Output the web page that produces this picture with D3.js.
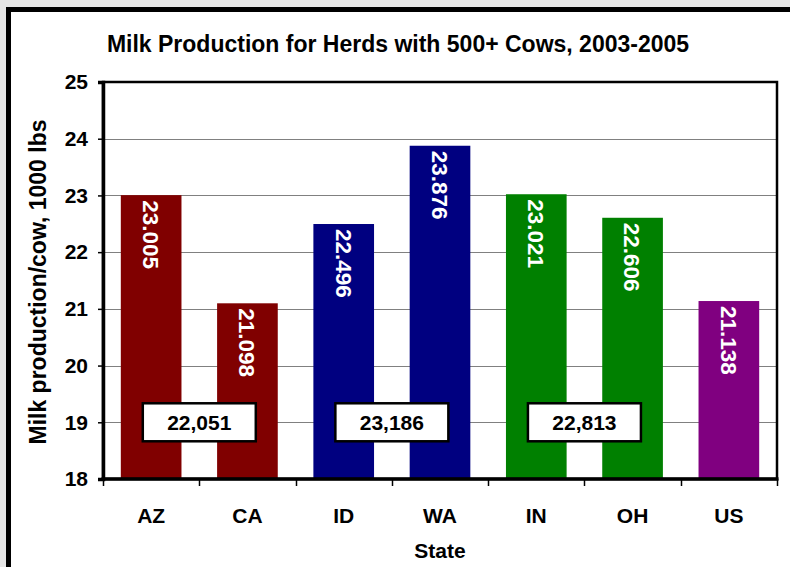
<!DOCTYPE html>
<html>
<head>
<meta charset="utf-8">
<script src="https://cdn.jsdelivr.net/npm/d3@7"></script>
<style>
  html, body { margin: 0; padding: 0; background: #e6e6e6; }
  svg { display: block; font-family: "Liberation Sans", Arial, sans-serif; }
</style>
</head>
<body>
<svg id="chart" width="790" height="567"></svg>
<script>
// Milk production per cow (1000 lbs), herds with 500+ cows, 2003-2005
const states = ["AZ", "CA", "ID", "WA", "IN", "OH", "US"];
const production = [23.005, 21.098, 22.496, 23.876, 23.021, 22.606, 21.138];
const barColors = ["#800000", "#800000", "#000080", "#000080", "#008000", "#008000", "#800080"];

// Paired-state averages shown in boxes between each pair
const pairLabels = ["22,051", "23,186", "22,813"];
const pairStates = [["AZ", "CA"], ["ID", "WA"], ["IN", "OH"]];
const pairLevel = 19;

const yTicks = [18, 19, 20, 21, 22, 23, 24, 25];

const svg = d3.select("#chart");
const W = 790, H = 567;

// Outer white panel with heavy black frame
svg.append("rect")
  .attr("x", 8.5).attr("y", 9.5)
  .attr("width", W + 10).attr("height", H + 10)
  .attr("fill", "#fff").attr("stroke", "#000").attr("stroke-width", 5);

const m = { left: 103, top: 82, right: 777, bottom: 479 };

const x = d3.scaleBand()
  .domain(states)
  .range([m.left, m.right])
  .paddingInner(0.37)
  .paddingOuter(0.185);

const y = d3.scaleLinear().domain([18, 25]).range([m.bottom, m.top]);

// Title
svg.append("text")
  .attr("x", 398).attr("y", 52)
  .attr("text-anchor", "middle")
  .attr("font-size", 23).attr("font-weight", "bold")
  .text("Milk Production for Herds with 500+ Cows, 2003-2005");

// Gridlines
svg.append("g")
  .selectAll("line")
  .data(yTicks.filter(t => t > 18 && t < 25))
  .join("line")
  .attr("x1", m.left).attr("x2", m.right)
  .attr("y1", d => Math.round(y(d)) + 0.5).attr("y2", d => Math.round(y(d)) + 0.5)
  .attr("stroke", "#808080").attr("stroke-width", 1);

// Bars
svg.append("g")
  .selectAll("rect")
  .data(states)
  .join("rect")
  .attr("x", d => x(d))
  .attr("width", x.bandwidth())
  .attr("y", (d, i) => y(production[i]))
  .attr("height", (d, i) => y(18) - y(production[i]))
  .attr("fill", (d, i) => barColors[i]);

// Value labels, rotated, inside the top of each bar
svg.append("g")
  .selectAll("text")
  .data(states)
  .join("text")
  .attr("transform", (d, i) => `translate(${x(d) + x.bandwidth() / 2},${y(production[i]) + 5}) rotate(90)`)
  .attr("dy", "0.36em")
  .attr("fill", "#fff")
  .attr("font-size", 22.5).attr("font-weight", "bold")
  .attr("text-anchor", "start")
  .text((d, i) => production[i].toFixed(3));

// Plot border (top/right)
svg.append("rect")
  .attr("x", m.left).attr("y", m.top)
  .attr("width", m.right - m.left).attr("height", m.bottom - m.top)
  .attr("fill", "none").attr("stroke", "#000").attr("stroke-width", 2.5);

// Y axis
const yAxis = svg.append("g")
  .attr("transform", `translate(${m.left},0)`)
  .call(d3.axisLeft(y).tickValues(yTicks).tickFormat(d3.format("d")).tickSize(5).tickPadding(10));
yAxis.select(".domain").attr("stroke-width", 3.5);
yAxis.selectAll(".tick line").attr("stroke-width", 1.5);
yAxis.selectAll("text")
  .attr("font-size", 21).attr("font-weight", "bold")
  .attr("font-family", "Liberation Sans, Arial, sans-serif")
  .attr("fill", "#000");

// X axis: ticks at band boundaries
const bounds = states.map(s => x(s) - x.step() * x.paddingInner() / 2).concat([m.right]);
bounds[0] = m.left;
const xg = svg.append("g");
xg.append("line")
  .attr("x1", m.left - 1.5).attr("x2", m.right + 1.5)
  .attr("y1", m.bottom).attr("y2", m.bottom)
  .attr("stroke", "#000").attr("stroke-width", 3.5);
xg.selectAll("line.tk")
  .data(bounds)
  .join("line").attr("class", "tk")
  .attr("x1", d => Math.round(d) + 0.5).attr("x2", d => Math.round(d) + 0.5)
  .attr("y1", m.bottom).attr("y2", m.bottom + 7)
  .attr("stroke", "#000").attr("stroke-width", 1.5);
xg.selectAll("text")
  .data(states)
  .join("text")
  .attr("x", d => x(d) + x.bandwidth() / 2)
  .attr("y", 523)
  .attr("text-anchor", "middle")
  .attr("font-size", 21).attr("font-weight", "bold")
  .text(d => d);

// Axis titles
svg.append("text")
  .attr("x", 440).attr("y", 558)
  .attr("text-anchor", "middle")
  .attr("font-size", 21).attr("font-weight", "bold")
  .text("State");

svg.append("text")
  .attr("transform", "translate(46,282) rotate(-90)")
  .attr("text-anchor", "middle")
  .attr("font-size", 23).attr("font-weight", "bold")
  .text("Milk production/cow, 1000 lbs");

// Pair value boxes
const boxW = 113, boxH = 38;
const pairs = svg.append("g")
  .selectAll("g")
  .data(pairLabels)
  .join("g")
  .attr("transform", (d, i) => {
    const [a, b] = pairStates[i];
    const cx = (x(a) + x(b) + x.bandwidth()) / 2;
    return `translate(${cx},${y(pairLevel)})`;
  });
pairs.append("rect")
  .attr("x", -boxW / 2).attr("y", -boxH / 2)
  .attr("width", boxW).attr("height", boxH)
  .attr("fill", "#fff").attr("stroke", "#000").attr("stroke-width", 2.5);
pairs.append("text")
  .attr("text-anchor", "middle").attr("dy", "0.36em")
  .attr("font-size", 21).attr("font-weight", "bold")
  .text(d => d);
</script>
</body>
</html>
